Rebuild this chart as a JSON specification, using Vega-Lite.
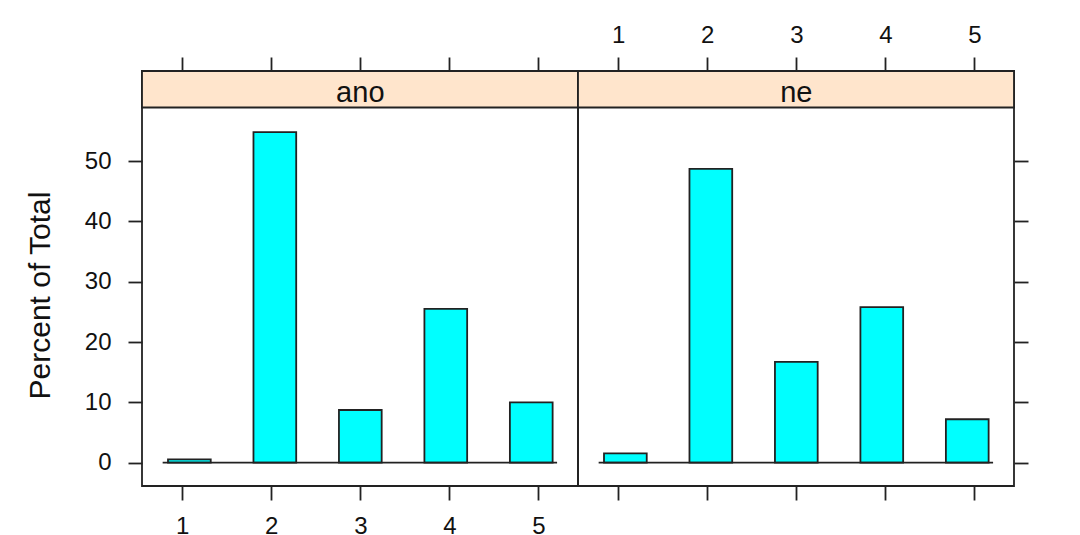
{
  "$schema": "https://vega.github.io/schema/vega-lite/v6.json",
  "background": "white",
  "padding": {"left": 24, "top": 22, "right": 0, "bottom": 0},
  "spacing": 0,
  "bounds": "flush",
  "datasets": {
    "bins": [
      {"panel": "ano", "lo": 0.84, "hi": 1.32, "pct": 0.56},
      {"panel": "ano", "lo": 1.80, "hi": 2.28, "pct": 54.8},
      {"panel": "ano", "lo": 2.76, "hi": 3.24, "pct": 8.74},
      {"panel": "ano", "lo": 3.72, "hi": 4.20, "pct": 25.5},
      {"panel": "ano", "lo": 4.68, "hi": 5.16, "pct": 10.0},
      {"panel": "ne", "lo": 0.84, "hi": 1.32, "pct": 1.56},
      {"panel": "ne", "lo": 1.80, "hi": 2.28, "pct": 48.7},
      {"panel": "ne", "lo": 2.76, "hi": 3.24, "pct": 16.7},
      {"panel": "ne", "lo": 3.72, "hi": 4.20, "pct": 25.8},
      {"panel": "ne", "lo": 4.68, "hi": 5.16, "pct": 7.2}
    ],
    "panels": [
      {"panel": "ano"},
      {"panel": "ne"}
    ]
  },
  "config": {
    "view": {"stroke": "#222", "strokeWidth": 1.8},
    "axis": {
      "labelFont": "Liberation Sans",
      "labelFontSize": 24,
      "labelColor": "#111",
      "tickColor": "#222",
      "tickWidth": 1.8,
      "tickSize": 14,
      "domain": false,
      "grid": false,
      "titleFont": "Liberation Sans",
      "titleFontWeight": "normal",
      "titleColor": "#111"
    },
    "text": {"font": "Liberation Sans"}
  },
  "hconcat": [
    {
      "width": 436,
      "height": 415,
      "layer": [
        {
          "data": {"name": "bins"},
          "transform": [{"filter": "datum.panel === 'ano'"}],
          "mark": {"type": "rect", "fill": "#00FFFF", "stroke": "#222", "strokeWidth": 1.8},
          "encoding": {
            "x": {"field": "lo", "type": "quantitative", "scale": {"domain": [0.548, 5.445], "nice": false, "zero": false},
                  "axis": {"orient": "bottom", "values": [1, 2, 3, 4, 5], "labelPadding": 14, "title": null}},
            "x2": {"field": "hi"},
            "y": {"field": "pct", "type": "quantitative", "scale": {"domain": [-3.86, 64.92], "nice": false, "zero": false},
                  "axis": {"orient": "left", "values": [0, 10, 20, 30, 40, 50], "labelPadding": 17,
                           "title": "Percent of Total", "titleFontSize": 30, "titlePadding": 29, "titleY": 224}},
            "y2": {"datum": 0}
          }
        },
        {
          "data": {"name": "panels"},
          "transform": [{"filter": "datum.panel === 'ano'"}],
          "mark": {"type": "rule", "color": "#222", "strokeWidth": 1.8},
          "encoding": {
            "x": {"datum": 0.78, "type": "quantitative", "axis": null},
            "x2": {"datum": 5.21},
            "y": {"datum": 0, "type": "quantitative"}
          }
        },
        {
          "data": {"name": "panels"},
          "transform": [{"filter": "datum.panel === 'ano'"}],
          "mark": {"type": "rect", "fill": "#FFE5CC", "stroke": "#222", "strokeWidth": 1.8},
          "encoding": {
            "x": {"datum": 0.548, "type": "quantitative",
                  "axis": {"orient": "top", "values": [1, 2, 3, 4, 5], "labels": false, "title": null}},
            "x2": {"datum": 5.445},
            "y": {"datum": 58.87, "type": "quantitative"},
            "y2": {"datum": 64.92}
          }
        },
        {
          "data": {"name": "panels"},
          "transform": [{"filter": "datum.panel === 'ano'"}],
          "mark": {"type": "text", "baseline": "alphabetic", "align": "center", "fontSize": 29, "color": "#111"},
          "encoding": {
            "x": {"datum": 3, "type": "quantitative", "axis": null},
            "y": {"datum": 59.83, "type": "quantitative"},
            "text": {"field": "panel", "type": "nominal"}
          }
        }
      ]
    },
    {
      "width": 436,
      "height": 415,
      "layer": [
        {
          "data": {"name": "bins"},
          "transform": [{"filter": "datum.panel === 'ne'"}],
          "mark": {"type": "rect", "fill": "#00FFFF", "stroke": "#222", "strokeWidth": 1.8},
          "encoding": {
            "x": {"field": "lo", "type": "quantitative", "scale": {"domain": [0.548, 5.445], "nice": false, "zero": false},
                  "axis": {"orient": "bottom", "values": [1, 2, 3, 4, 5], "labels": false, "title": null}},
            "x2": {"field": "hi"},
            "y": {"field": "pct", "type": "quantitative", "scale": {"domain": [-3.86, 64.92], "nice": false, "zero": false},
                  "axis": {"orient": "right", "values": [0, 10, 20, 30, 40, 50], "labels": false, "title": null}},
            "y2": {"datum": 0}
          }
        },
        {
          "data": {"name": "panels"},
          "transform": [{"filter": "datum.panel === 'ne'"}],
          "mark": {"type": "rule", "color": "#222", "strokeWidth": 1.8},
          "encoding": {
            "x": {"datum": 0.78, "type": "quantitative", "axis": null},
            "x2": {"datum": 5.21},
            "y": {"datum": 0, "type": "quantitative"}
          }
        },
        {
          "data": {"name": "panels"},
          "transform": [{"filter": "datum.panel === 'ne'"}],
          "mark": {"type": "rect", "fill": "#FFE5CC", "stroke": "#222", "strokeWidth": 1.8},
          "encoding": {
            "x": {"datum": 0.548, "type": "quantitative",
                  "axis": {"orient": "top", "values": [1, 2, 3, 4, 5], "labelPadding": 10, "title": null}},
            "x2": {"datum": 5.445},
            "y": {"datum": 58.87, "type": "quantitative"},
            "y2": {"datum": 64.92}
          }
        },
        {
          "data": {"name": "panels"},
          "transform": [{"filter": "datum.panel === 'ne'"}],
          "mark": {"type": "text", "baseline": "alphabetic", "align": "center", "fontSize": 29, "color": "#111"},
          "encoding": {
            "x": {"datum": 3, "type": "quantitative", "axis": null},
            "y": {"datum": 59.83, "type": "quantitative"},
            "text": {"field": "panel", "type": "nominal"}
          }
        }
      ]
    }
  ]
}
